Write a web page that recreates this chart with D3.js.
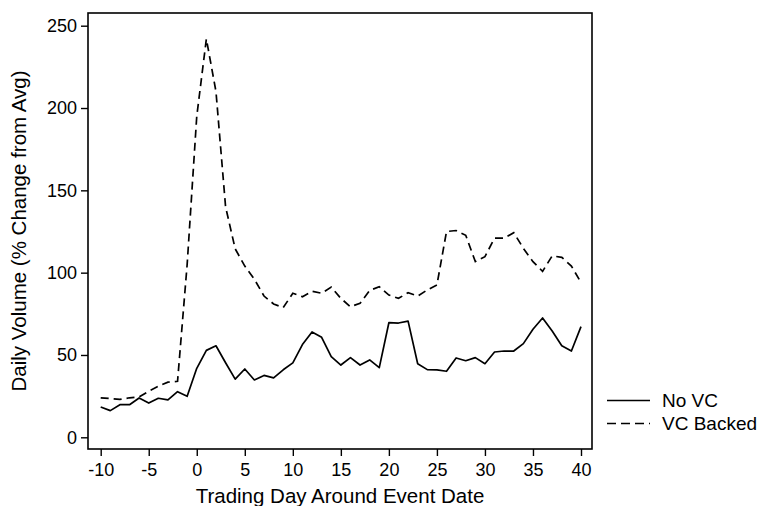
<!DOCTYPE html>
<html>
<head>
<meta charset="utf-8">
<script src="https://cdn.jsdelivr.net/npm/d3@7"></script>
<style>
  body { margin: 0; background: #fff; }
  svg { display: block; font-family: "Liberation Sans", Arial, Helvetica, sans-serif; }
</style>
</head>
<body>
<svg id="chart" width="759" height="506"></svg>
<script>
// trading days -10 .. 40
const days = [-10,-9,-8,-7,-6,-5,-4,-3,-2,-1,0,1,2,3,4,5,6,7,8,9,10,
  11,12,13,14,15,16,17,18,19,20,21,22,23,24,25,26,27,28,29,30,
  31,32,33,34,35,36,37,38,39,40];

const noVC = [18.4,16.2,19.8,19.8,23.9,20.8,23.7,22.7,27.7,24.9,41.9,52.8,55.6,45.3,35.3,41.5,34.8,37.6,36.1,41,45.2,
  56.3,64,60.7,49,43.9,48.4,43.9,47,42.3,69.6,69.4,70.6,44.7,41.1,40.9,40.1,48.2,46.5,48.4,44.7,
  51.8,52.4,52.4,56.9,65.6,72.5,64.6,55.6,52.4,67.2];

const vcBacked = [24,23.5,23,24,24.5,28,31,33.5,34,105,195,242,210,140,114.5,104,96,85.8,81,78.8,87.5,
  85.4,88.7,87.5,91.2,84.4,79.3,81.4,89.2,91.5,86.4,84.4,87.8,85.8,89.5,92.5,125,125.6,122.7,106.7,109.7,
  121,121,124.3,114.8,106.7,100.8,110.2,109.3,104,94];

const xTicks = [-10,-5,0,5,10,15,20,25,30,35,40];
const yTicks = [0,50,100,150,200,250];
const seriesNames = ["No VC", "VC Backed"];

const svg = d3.select("#chart");
const frame = {left: 88, right: 592, top: 13, bottom: 449};

const x = d3.scaleLinear().domain([-10, 40]).range([100.7, 581]);
const y = d3.scaleLinear().domain([0, 250]).range([437.3, 25.7]);

// frame
svg.append("rect")
  .attr("x", frame.left).attr("y", frame.top)
  .attr("width", frame.right - frame.left)
  .attr("height", frame.bottom - frame.top)
  .attr("fill", "none").attr("stroke", "#000").attr("stroke-width", 1.6);

const fmt = d => String(d);  // plain hyphen minus, as in the original

// x axis
const xAxis = svg.append("g")
  .attr("transform", "translate(0," + frame.bottom + ")")
  .call(d3.axisBottom(x).tickValues(xTicks).tickFormat(fmt).tickSize(7).tickPadding(7).tickSizeOuter(0));
xAxis.select(".domain").remove();
xAxis.selectAll("line").attr("stroke-width", 1.4);
xAxis.selectAll("text").attr("font-size", 18).attr("fill", "#000")
  .attr("font-family", "Liberation Sans, Arial, sans-serif");

// y axis
const yAxis = svg.append("g")
  .attr("transform", "translate(" + frame.left + ",0)")
  .call(d3.axisLeft(y).tickValues(yTicks).tickFormat(fmt).tickSize(7).tickPadding(4).tickSizeOuter(0));
yAxis.select(".domain").remove();
yAxis.selectAll("line").attr("stroke-width", 1.4);
yAxis.selectAll("text").attr("font-size", 18).attr("fill", "#000")
  .attr("font-family", "Liberation Sans, Arial, sans-serif");

// axis titles
svg.append("text")
  .attr("x", (frame.left + frame.right) / 2).attr("y", 503)
  .attr("text-anchor", "middle").attr("font-size", 20.5)
  .text("Trading Day Around Event Date");

svg.append("text")
  .attr("transform", "translate(26," + ((frame.top + frame.bottom) / 2) + ") rotate(-90)")
  .attr("text-anchor", "middle").attr("font-size", 20.5)
  .text("Daily Volume (% Change from Avg)");

// lines
const line = d3.line()
  .x((d, i) => x(days[i]))
  .y(d => y(d));

svg.append("path")
  .datum(noVC)
  .attr("fill", "none").attr("stroke", "#000").attr("stroke-width", 1.7)
  .attr("stroke-linejoin", "round")
  .attr("d", line);

svg.append("path")
  .datum(vcBacked)
  .attr("fill", "none").attr("stroke", "#000").attr("stroke-width", 1.7)
  .attr("stroke-dasharray", "8,5")
  .attr("d", line);

// legend
const legend = svg.append("g").attr("transform", "translate(607,0)");
const legendRows = [{name: seriesNames[0], dash: null, y: 400.5},
                    {name: seriesNames[1], dash: "9,5", y: 423.5}];
legendRows.forEach(r => {
  legend.append("line")
    .attr("x1", 0).attr("x2", 43).attr("y1", r.y).attr("y2", r.y)
    .attr("stroke", "#000").attr("stroke-width", 1.6)
    .attr("stroke-dasharray", r.dash);
  legend.append("text")
    .attr("x", 55).attr("y", r.y).attr("dy", "0.36em")
    .attr("font-size", 19)
    .text(r.name);
});
</script>
</body>
</html>
